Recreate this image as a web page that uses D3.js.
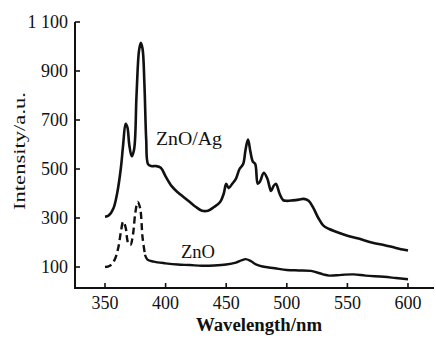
<!DOCTYPE html>
<html><head><meta charset="utf-8">
<script src="https://cdn.jsdelivr.net/npm/d3@7"></script>
<style>
html,body{margin:0;padding:0;background:#fff;}
svg text{font-family:"Liberation Serif","Times New Roman",serif;fill:#111;}
</style></head>
<body>
<svg id="c" width="436" height="338"></svg>
<script>
// Wavelength (nm) and intensity (a.u.)
const znoAgWl  = [350,353,357,360,363,365,367,368.5,370,372,374,376,378,379.5,381,382.5,384,385.5,388,392,396,400,405,410,415,420,425,430,435,440,445,448,450,452,455,458,461,464,466,468,470,472,474,476,478,481,484,487,489,491,494,497,500,505,510,514,518,522,526,530,535,540,550,560,570,580,590,600];
const znoAgVal = [305,310,340,400,500,600,685,670,600,552,580,800,980,1015,990,850,620,520,512,512,505,470,430,405,385,365,345,330,330,345,365,400,440,422,440,460,500,520,580,620,570,530,520,440,450,485,460,410,430,440,400,373,370,372,375,378,370,340,300,270,255,245,228,215,200,190,178,167];
const znoWl  = [350,354,358,361,363,365,367,369,371,373,375,377,379,381,383,385,390,400,410,420,430,440,450,458,463,466,470,475,480,490,500,510,520,530,535,545,555,565,580,590,600];
const znoVal = [100,105,130,180,240,285,262,200,190,230,320,366,340,220,150,130,122,115,110,108,105,106,110,118,128,132,125,110,102,95,88,86,84,70,65,68,70,65,60,55,50];
const xTicks = [350,400,450,500,550,600];
const yTicks = [100,300,500,700,900,1100];
const yTickLabels = ["100","300","500","700","900","1 100"];
const seriesNames = ["ZnO/Ag","ZnO"];
const xTitle = "Wavelength/nm";
const yTitle = "Intensity/a.u.";
const dashedUntil = 384;

const svg = d3.select("#c");
const x = d3.scaleLinear().domain([350,600]).range([105,408]);
const y = d3.scaleLinear().domain([14.3,1100]).range([288,22]);
const axisLeft = 75, axisBottom = 288, axisRight = 434;

// axes lines
svg.append("line").attr("x1",axisLeft).attr("x2",axisLeft).attr("y1",y(1100)).attr("y2",axisBottom+1)
  .attr("stroke","#111").attr("stroke-width",2);
svg.append("line").attr("x1",axisLeft).attr("x2",axisRight).attr("y1",axisBottom).attr("y2",axisBottom)
  .attr("stroke","#111").attr("stroke-width",2);

// y ticks (inward)
yTicks.forEach((t,i)=>{
  svg.append("line").attr("x1",axisLeft).attr("x2",axisLeft+5).attr("y1",y(t)).attr("y2",y(t))
    .attr("stroke","#111").attr("stroke-width",1.6);
  svg.append("text").attr("x",68).attr("y",y(t)).attr("dy","0.36em").attr("text-anchor","end")
    .attr("font-size",18).text(yTickLabels[i]);
});
// x ticks (inward)
xTicks.forEach(t=>{
  svg.append("line").attr("x1",x(t)).attr("x2",x(t)).attr("y1",axisBottom).attr("y2",axisBottom-5)
    .attr("stroke","#111").attr("stroke-width",1.6);
  svg.append("text").attr("x",x(t)).attr("y",309).attr("text-anchor","middle")
    .attr("font-size",18).text(t);
});

// titles
svg.append("text").attr("x",259).attr("y",331).attr("text-anchor","middle")
  .attr("font-size",18).attr("font-weight","bold")
  .attr("textLength",126).attr("lengthAdjust","spacingAndGlyphs").text(xTitle);
svg.append("text").attr("transform","translate(25,151) rotate(-90)").attr("text-anchor","middle")
  .attr("font-size",17).attr("textLength",118).attr("lengthAdjust","spacingAndGlyphs").text(yTitle);

// curves
const line = d3.line().x(d=>x(d[0])).y(d=>y(d[1])).curve(d3.curveCatmullRom.alpha(0.5));
const agData = znoAgWl.map((w,i)=>[w,znoAgVal[i]]);
const znoData = znoWl.map((w,i)=>[w,znoVal[i]]);
svg.append("path").datum(agData).attr("d",line).attr("fill","none")
  .attr("stroke","#111").attr("stroke-width",2.6).attr("stroke-linejoin","round");
svg.append("path").datum(znoData.filter(d=>d[0]<=dashedUntil)).attr("d",line).attr("fill","none")
  .attr("stroke","#111").attr("stroke-width",2.4).attr("stroke-dasharray","7,4");
svg.append("path").datum(znoData.filter(d=>d[0]>=dashedUntil-1)).attr("d",line).attr("fill","none")
  .attr("stroke","#111").attr("stroke-width",2.4).attr("stroke-linejoin","round");

// series labels
svg.append("text").attr("x",156).attr("y",145).attr("font-size",18)
  .attr("textLength",66).attr("lengthAdjust","spacingAndGlyphs").text(seriesNames[0]);
svg.append("text").attr("x",181).attr("y",258).attr("font-size",18)
  .attr("textLength",34).attr("lengthAdjust","spacingAndGlyphs").text(seriesNames[1]);
</script>
</body></html>
